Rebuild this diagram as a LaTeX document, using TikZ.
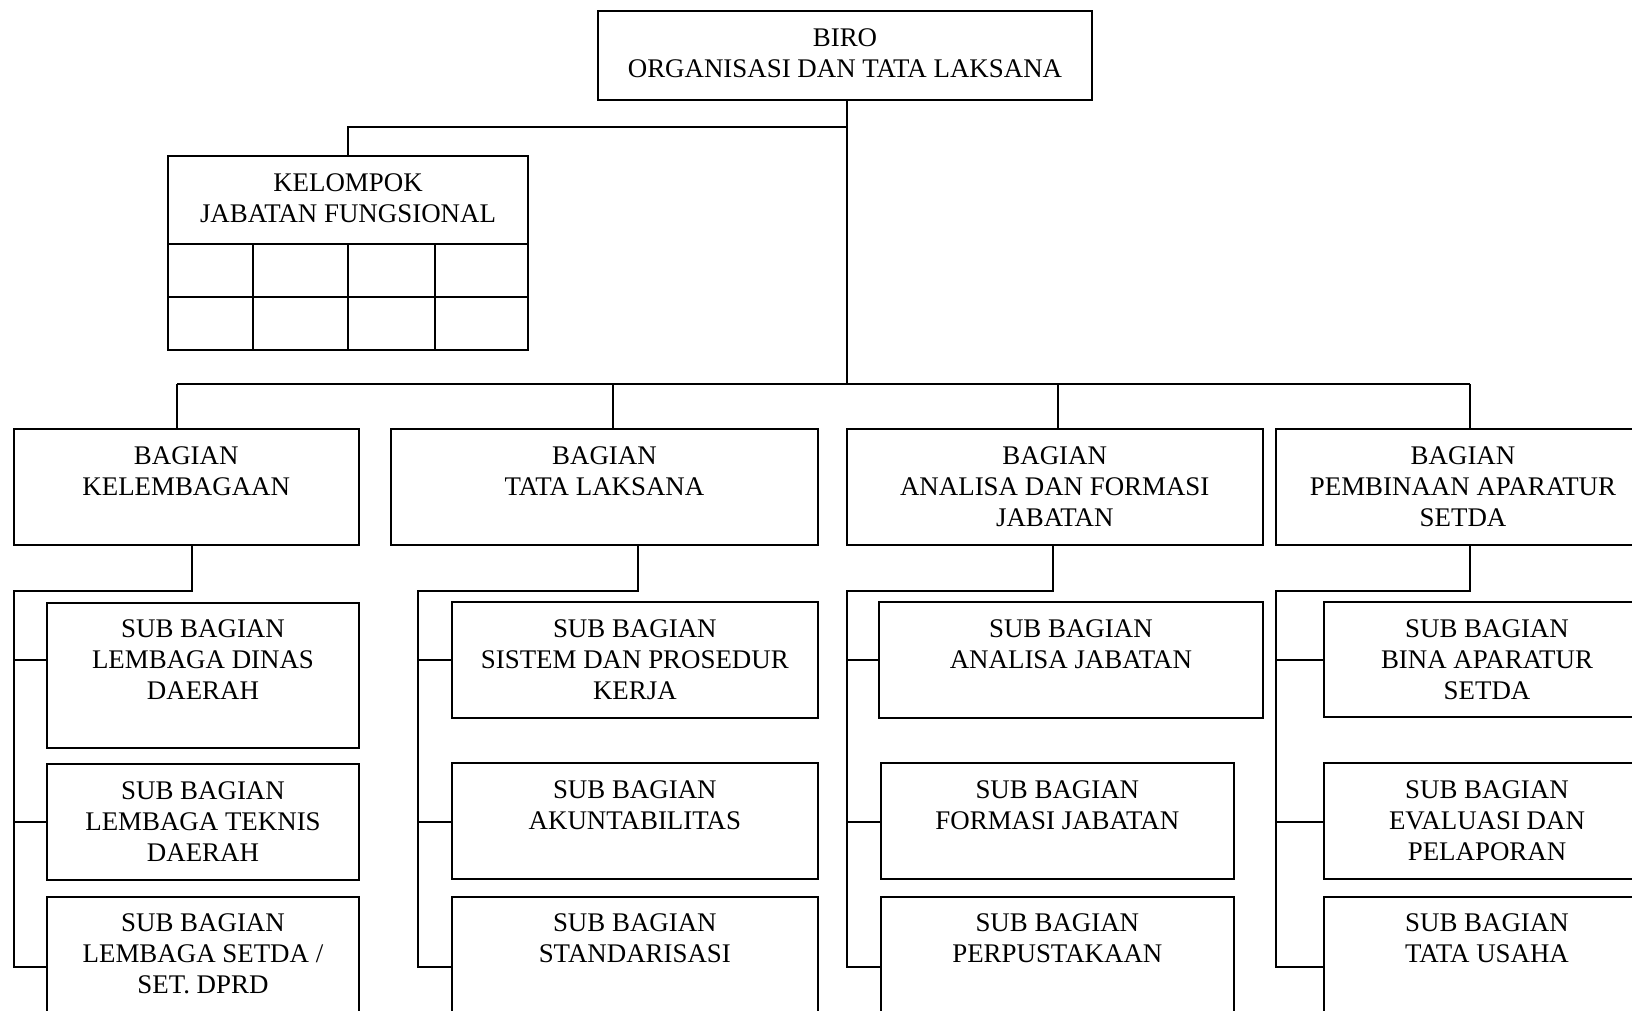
\documentclass[tikz,border=0pt]{standalone}
\usepackage{fontspec}
\setmainfont{Liberation Serif}
\usetikzlibrary{calc}
\tikzset{
 box/.style={draw=black, line width=2pt, fill=white, inner sep=0pt, outer sep=0pt, rectangle},
 txt/.style={font=\fontsize{26.9}{31}\selectfont, align=center, inner sep=0pt, outer sep=0pt, text=black},
 conn/.style={draw=black, line width=2pt},
 grid/.style={draw=black, line width=2pt},
}
\newcommand\obox[6]{%
 \node[box, minimum width=#4pt, minimum height=#5pt, anchor=north west] (#1) at (#2,#3) {};
 \node[txt, anchor=north] (#1t) at ([yshift=-17.2pt]#1.north) {#6};
}
\begin{document}
\begin{tikzpicture}[x=1pt,y=-1pt]
\useasboundingbox (0,0) rectangle (1632,1011);
\fill[white] (0,0) rectangle (1632,1011);
\clip (0,0) rectangle (1632,1011);

% top
\obox{biro}{598}{11}{494}{89}{BIRO\\ORGANISASI DAN TATA LAKSANA}
\obox{kjf}{168}{156}{360}{194}{KELOMPOK\\JABATAN FUNGSIONAL}
\draw[grid] ($(kjf.north west)+(0,88)$) -- ($(kjf.north east)+(0,88)$);
\draw[grid] ($(kjf.north west)+(0,141)$) -- ($(kjf.north east)+(0,141)$);
\foreach \dx in {85,180,267}
  \draw[grid] ($(kjf.north west)+(\dx,88)$) -- ($(kjf.south west)+(\dx,0)$);

% bagian
\obox{bag1}{13.5}{429}{345.5}{116}{BAGIAN\\KELEMBAGAAN}
\obox{bag2}{391}{429}{427}{116}{BAGIAN\\TATA LAKSANA}
\obox{bag3}{847}{429}{415.5}{116}{BAGIAN\\ANALISA DAN FORMASI\\JABATAN}
\obox{bag4}{1276}{429}{374}{116}{BAGIAN\\PEMBINAAN APARATUR\\SETDA}

% sub bagian col 1
\obox{s11}{47}{602.5}{312}{145}{SUB BAGIAN\\LEMBAGA DINAS\\DAERAH}
\obox{s12}{47}{764}{312}{115.5}{SUB BAGIAN\\LEMBAGA TEKNIS\\DAERAH}
\obox{s13}{47}{896.5}{312}{145}{SUB BAGIAN\\LEMBAGA SETDA /\\SET. DPRD}
% col 2
\obox{s21}{451.7}{602.3}{366.3}{115.2}{SUB BAGIAN\\SISTEM DAN PROSEDUR\\KERJA}
\obox{s22}{451.7}{763}{366.3}{116}{SUB BAGIAN\\AKUNTABILITAS}
\obox{s23}{451.7}{896.5}{366.3}{145}{SUB BAGIAN\\STANDARISASI}
% col 3
\obox{s31}{879.3}{602.3}{383.2}{115.2}{SUB BAGIAN\\ANALISA JABATAN}
\obox{s32}{880.7}{763}{353.3}{116}{SUB BAGIAN\\FORMASI JABATAN}
\obox{s33}{880.7}{896.5}{353.3}{145}{SUB BAGIAN\\PERPUSTAKAAN}
% col 4
\obox{s41}{1324}{602.3}{326}{115}{SUB BAGIAN\\BINA APARATUR\\SETDA}
\obox{s42}{1324}{763}{326}{116}{SUB BAGIAN\\EVALUASI DAN\\PELAPORAN}
\obox{s43}{1324}{896.5}{326}{145}{SUB BAGIAN\\TATA USAHA}

% connectors from top
\coordinate (kj) at (847,127);
\coordinate (d1) at (177,384);
\coordinate (d2) at (613,384);
\coordinate (d3) at (1057.5,384);
\coordinate (d4) at (1470,384);
\draw[conn] (biro.south -| kj) -- (kj |- d1);
\draw[conn] (kj) -| (kjf.north);
\draw[conn] (d1) -- (d4);
\draw[conn] (d1) -- (d1 |- bag1.north);
\draw[conn] (d2) -- (d2 |- bag2.north);
\draw[conn] (d3) -- (d3 |- bag3.north);
\draw[conn] (d4) -- (d4 |- bag4.north);

% sub connectors
\coordinate (c1) at (192,590.5);   \coordinate (sp1) at (13.5,590.5);
\coordinate (c2) at (638,590.5);   \coordinate (sp2) at (418.3,590.5);
\coordinate (c3) at (1053,590.5);  \coordinate (sp3) at (847.2,590.5);
\coordinate (c4) at (1470,590.5);  \coordinate (sp4) at (1276,590.5);

\draw[conn] (c1 |- bag1.south) -- (c1) -- (sp1) -- (sp1 |- 0,966.5) -- (s13.west |- 0,966.5);
\draw[conn] (sp1 |- 0,660) -- (s11.west |- 0,660);
\draw[conn] (sp1 |- 0,822) -- (s12.west |- 0,822);

\draw[conn] (c2 |- bag2.south) -- (c2) -- (sp2) -- (sp2 |- 0,966.5) -- (s23.west |- 0,966.5);
\draw[conn] (sp2 |- 0,660) -- (s21.west |- 0,660);
\draw[conn] (sp2 |- 0,822) -- (s22.west |- 0,822);

\draw[conn] (c3 |- bag3.south) -- (c3) -- (sp3) -- (sp3 |- 0,966.5) -- (s33.west |- 0,966.5);
\draw[conn] (sp3 |- 0,660) -- (s31.west |- 0,660);
\draw[conn] (sp3 |- 0,822) -- (s32.west |- 0,822);

\draw[conn] (c4 |- bag4.south) -- (c4) -- (sp4) -- (sp4 |- 0,966.5) -- (s43.west |- 0,966.5);
\draw[conn] (sp4 |- 0,660) -- (s41.west |- 0,660);
\draw[conn] (sp4 |- 0,822) -- (s42.west |- 0,822);
\end{tikzpicture}
\end{document}
